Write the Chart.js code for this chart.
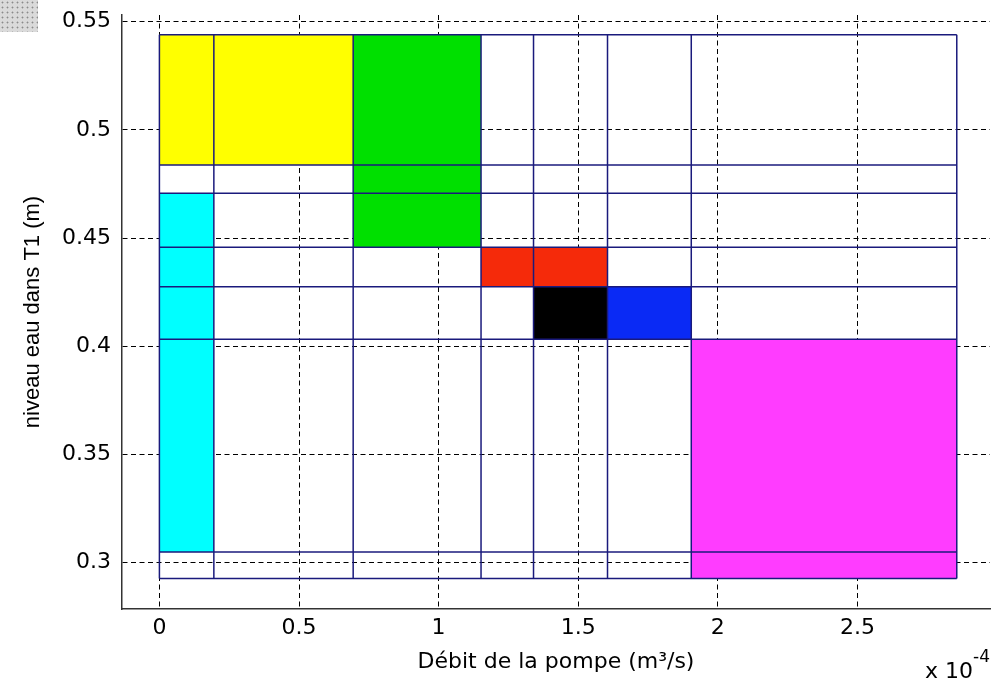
<!DOCTYPE html>
<html>
<head>
<meta charset="utf-8">
<script src="https://cdn.jsdelivr.net/npm/chart.js@4/dist/chart.umd.min.js"></script>
<style>
  html, body { margin: 0; padding: 0; background: #ffffff; }
  #wrap { position: relative; width: 1002px; height: 682px; }
  #stipple { position: absolute; left: 0; top: 0; width: 38px; height: 32px;
    background-color: #dadada;
    background-image: radial-gradient(#8a8a8a 0.7px, transparent 1.2px);
    background-size: 5px 5px; }
  canvas { position: absolute; left: 0; top: 0; }
</style>
</head>
<body>
<div id="wrap">
  <div id="stipple"></div>
  <canvas id="c" width="1002" height="682"></canvas>
</div>
<script>
// ---- data (x in units of 1e-4 m3/s, y in m) ----
const xEdges = [0, 0.195, 0.694, 1.152, 1.34, 1.605, 1.905, 2.856];
const yEdges = [0.2926, 0.3049, 0.4032, 0.4275, 0.4457, 0.4707, 0.4838, 0.544];

const patchNames  = ['yellow', 'green', 'cyan', 'red', 'black', 'blue', 'magenta'];
const patchX0     = [0,      0.694, 0,      1.152, 1.34,   1.605, 1.905];
const patchX1     = [0.694,  1.152, 0.195,  1.605, 1.605,  1.905, 2.856];
const patchY0     = [0.4838, 0.4457, 0.3049, 0.4275, 0.4032, 0.4032, 0.2926];
const patchY1     = [0.544,  0.544,  0.4707, 0.4457, 0.4275, 0.4275, 0.4032];
const patchColors = ['#ffff00', '#00e000', '#00ffff', '#f52a0a', '#000000', '#0a2af5', '#ff3cff'];

const xTicks = [0, 0.5, 1, 1.5, 2, 2.5];
const yTicks = [0.3, 0.35, 0.4, 0.45, 0.5, 0.55];
const xRange = [-0.134, 2.975];
const yRange = [0.2785, 0.5531];

const xTitle = 'Débit de la pompe (m³/s)';
const yTitle = 'niveau eau dans T1 (m)';
const xExponentBase = 'x 10';
const xExponent = '-4';

// ---- build datasets ----
const lineColor = '#1a1a7c';
const datasets = [];
// grid cell lines (drawn on top of the coloured patches)
xEdges.forEach((x, i) => {
  datasets.push({
    label: 'v' + i,
    data: [{x: x, y: yEdges[0]}, {x: x, y: yEdges[yEdges.length - 1]}],
    showLine: true, borderColor: lineColor, borderWidth: 1.5,
    pointRadius: 0, fill: false, order: 0
  });
});
yEdges.forEach((y, i) => {
  datasets.push({
    label: 'h' + i,
    data: [{x: xEdges[0], y: y}, {x: xEdges[xEdges.length - 1], y: y}],
    showLine: true, borderColor: lineColor, borderWidth: 1.5,
    pointRadius: 0, fill: false, order: 0
  });
});
// coloured patches
patchNames.forEach((n, i) => {
  datasets.push({
    label: n,
    data: [
      {x: patchX0[i], y: patchY0[i]},
      {x: patchX1[i], y: patchY0[i]},
      {x: patchX1[i], y: patchY1[i]},
      {x: patchX0[i], y: patchY1[i]},
      {x: patchX0[i], y: patchY0[i]}
    ],
    showLine: true, borderWidth: 0, borderColor: patchColors[i],
    backgroundColor: patchColors[i], pointRadius: 0, fill: 'shape', order: 1
  });
});

const exponentPlugin = {
  id: 'exponent',
  afterDraw(chart) {
    const ctx = chart.ctx;
    const a = chart.chartArea;
    ctx.save();
    ctx.fillStyle = '#000';
    ctx.textBaseline = 'alphabetic';
    ctx.textAlign = 'right';
    ctx.font = '17px "DejaVu Sans"';
    const wExp = ctx.measureText(xExponent).width;
    ctx.fillText(xExponent, a.right, 662);
    ctx.font = '22px "DejaVu Sans"';
    ctx.fillText(xExponentBase, a.right - wExp, 678);
    ctx.restore();
  }
};

const tickFont = { family: 'DejaVu Sans', size: 22 };

new Chart(document.getElementById('c'), {
  type: 'scatter',
  data: { datasets: datasets },
  options: {
    responsive: false,
    devicePixelRatio: 1,
    animation: false,
    layout: { padding: { top: 15, right: 12, left: 0, bottom: 0 } },
    plugins: { legend: { display: false }, tooltip: { enabled: false } },
    elements: { line: { tension: 0 } },
    scales: {
      x: {
        type: 'linear', min: xRange[0], max: xRange[1], z: 1,
        afterFit: s => { s.height = 73; s.paddingLeft = 0; s.paddingRight = 0; },
        afterBuildTicks: s => { s.ticks = xTicks.map(v => ({ value: v })); },
        grid: { color: '#000', lineWidth: 1, drawTicks: false },
        border: { display: true, color: '#333', width: 1.5, dash: [5, 3.5] },
        ticks: { color: '#000', font: tickFont, padding: 6, maxRotation: 0,
                 callback: v => String(v) },
        title: { display: true, text: xTitle, color: '#000',
                 font: { family: 'DejaVu Sans', size: 22 }, padding: { bottom: 7, top: 0 } }
      },
      y: {
        type: 'linear', min: yRange[0], max: yRange[1], z: 1,
        afterFit: s => { s.width = 122; s.paddingTop = 0; s.paddingBottom = 0; },
        afterBuildTicks: s => { s.ticks = yTicks.map(v => ({ value: v })); },
        grid: { color: '#000', lineWidth: 1, drawTicks: false },
        border: { display: true, color: '#333', width: 1.5, dash: [5, 3.5] },
        ticks: { color: '#000', font: tickFont, padding: 11,
                 callback: v => String(v) },
        title: { display: true, text: yTitle, color: '#000',
                 font: { family: 'Liberation Sans', size: 22 }, padding: { top: 20, bottom: 0 } }
      }
    }
  },
  plugins: [exponentPlugin]
});
</script>
</body>
</html>
